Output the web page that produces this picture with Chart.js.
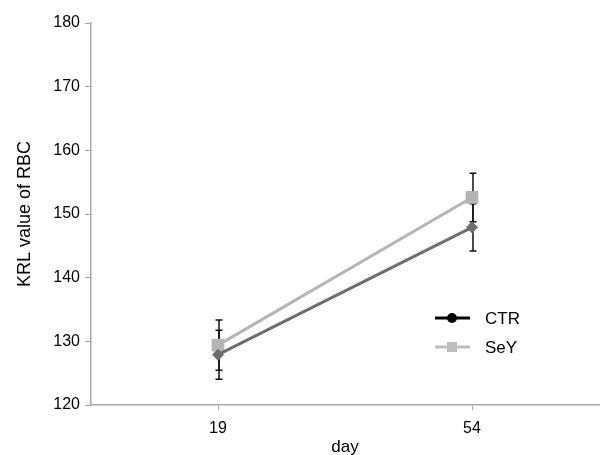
<!DOCTYPE html>
<html>
<head>
<meta charset="utf-8">
<script src="https://cdn.jsdelivr.net/npm/chart.js@4/dist/chart.umd.min.js"></script>
<style>
  html, body { margin: 0; padding: 0; background: #fff; }
  #wrap { width: 608px; height: 455px; }
</style>
</head>
<body>
<div id="wrap"><canvas id="krl-chart" width="608" height="455"></canvas></div>
<script>
const days = ['19', '54'];
const ctrValues = [127.9, 147.9];
const seyValues = [129.4, 152.6];
const ctrErrors = [3.85, 3.7];
const seyErrors = [3.95, 3.8];
const yTicks = [120, 130, 140, 150, 160, 170, 180];

const FONT = "'Liberation Sans', Arial, sans-serif";
const axisColor = '#a8a8a8';
const ctrColor = '#6e6e6e';
const seyColor = '#b5b5b5';

// error bars go under the lines and markers
const errorBarPlugin = {
  id: 'errorBars',
  beforeDatasetsDraw(chart) {
    const { ctx, scales } = chart;
    const errs = [ctrErrors, seyErrors];
    ctx.save();
    ctx.strokeStyle = '#111';
    ctx.lineWidth = 1.5;
    chart.data.datasets.forEach((ds, i) => {
      ds.data.forEach((v, j) => {
        const x = scales.x.getPixelForValue(j) + 1;
        const top = scales.y.getPixelForValue(v + errs[i][j]);
        const bot = scales.y.getPixelForValue(v - errs[i][j]);
        ctx.beginPath();
        ctx.moveTo(x, top); ctx.lineTo(x, bot);
        ctx.moveTo(x - 3.5, top); ctx.lineTo(x + 3.5, top);
        ctx.moveTo(x - 3.5, bot); ctx.lineTo(x + 3.5, bot);
        ctx.stroke();
      });
    });
    ctx.restore();
  }
};

const legendPlugin = {
  id: 'sideLegend',
  afterDraw(chart) {
    const { ctx } = chart;
    const items = [
      { label: 'CTR', color: '#000', y: 318, shape: 'circle' },
      { label: 'SeY', color: '#bdbdbd', y: 347, shape: 'square' },
    ];
    ctx.save();
    items.forEach(it => {
      ctx.strokeStyle = it.color;
      ctx.fillStyle = it.color;
      ctx.lineWidth = 3;
      ctx.beginPath();
      ctx.moveTo(435, it.y); ctx.lineTo(470, it.y);
      ctx.stroke();
      if (it.shape === 'circle') {
        ctx.beginPath();
        ctx.arc(452, it.y, 5, 0, Math.PI * 2);
        ctx.fill();
      } else {
        ctx.fillRect(447, it.y - 5, 10, 10);
      }
      ctx.fillStyle = '#000';
      ctx.font = '17px ' + FONT;
      ctx.textAlign = 'left';
      ctx.textBaseline = 'middle';
      ctx.fillText(it.label, 485, it.y + 1);
    });
    ctx.restore();
  }
};

const ctx = document.getElementById('krl-chart').getContext('2d');
new Chart(ctx, {
  type: 'line',
  data: {
    labels: days,
    datasets: [
      {
        label: 'CTR',
        data: ctrValues,
        borderColor: ctrColor,
        backgroundColor: ctrColor,
        borderWidth: 3,
        pointStyle: 'rectRot',
        pointRadius: 6,
        pointBorderWidth: 0,
        tension: 0,
      },
      {
        label: 'SeY',
        data: seyValues,
        borderColor: seyColor,
        backgroundColor: seyColor,
        borderWidth: 3,
        pointStyle: 'rect',
        pointRadius: 9,
        pointBorderWidth: 0,
        tension: 0,
      },
    ],
  },
  options: {
    responsive: false,
    animation: false,
    layout: { padding: { left: 0, top: 23, right: 1, bottom: 0 } },
    plugins: {
      legend: { display: false },
      tooltip: { enabled: false },
    },
    scales: {
      x: {
        offset: true,
        grid: { offset: false, drawOnChartArea: false, drawTicks: true, tickLength: 5, color: axisColor },
        border: { display: true, color: axisColor, width: 1.5 },
        ticks: { color: '#000', font: { family: FONT, size: 16 }, padding: 9 },
        title: { display: true, text: 'day', color: '#000', font: { family: FONT, size: 17 }, padding: { top: 0, bottom: -3 } },
        afterFit(scale) { scale.height = 50; },
      },
      y: {
        min: 120,
        max: 180,
        afterBuildTicks(scale) { scale.ticks = yTicks.map(v => ({ value: v })); },
        grid: { drawOnChartArea: false, drawTicks: true, tickLength: 6, color: axisColor },
        border: { display: true, color: axisColor, width: 1.5 },
        ticks: { color: '#000', font: { family: FONT, size: 16 }, padding: 5 },
        title: { display: true, text: 'KRL value of RBC', color: '#000', font: { family: FONT, size: 18 }, padding: { top: 14, bottom: 0 } },
        afterFit(scale) { scale.width = 91; },
      },
    },
  },
  plugins: [errorBarPlugin, legendPlugin],
});
</script>
</body>
</html>
